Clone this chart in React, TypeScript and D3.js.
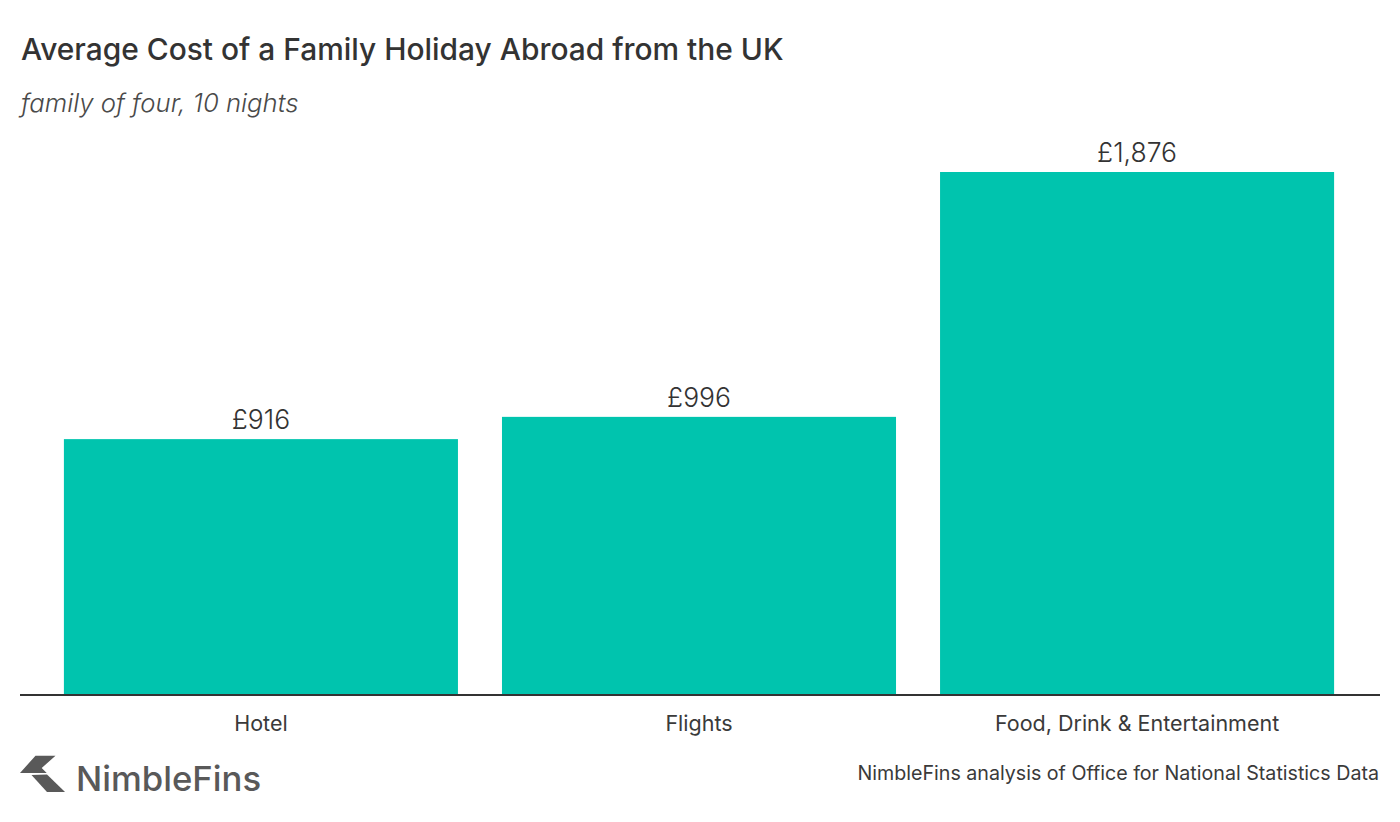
import * as React from 'react';
import { useEffect, useRef } from 'react';
import { select, scaleBand, scaleLinear, axisBottom } from 'd3';

const categories = ['Hotel', 'Flights', 'Food, Drink & Entertainment'];
const costs = [916, 996, 1876];

const width = 1400;
const height = 822;
const baseline = 694;
const font = 'Inter, sans-serif';

const x = scaleBand<string>().domain(categories).range([42, 1356]).paddingInner(0.1005).paddingOuter(0.05);
const y = scaleLinear().domain([0, 1876]).range([baseline, 172]);

const App = () => {
    const axisRef = useRef<SVGGElement>(null);

    useEffect(() => {
        const g = select(axisRef.current);
        g.call(axisBottom(x).tickSize(0).tickPadding(20.5) as any);
        g.select('.domain').attr('d', `M${20 - 42},0H${1380 - 42}`).attr('transform', 'translate(42,0)').attr('stroke', '#333333').attr('stroke-width', 2);
        g.selectAll('text').attr('font-family', font).attr('font-size', 21.5).attr('fill', '#3a3a3a');
    }, []);

    return (
        <svg width={width} height={height} style={{ position: 'absolute', left: 0, top: 0, background: '#fff' }}>
            <text x={21} y={60} fontFamily={font} fontSize={29.9} fontWeight={500} fill="#333333">
                Average Cost of a Family Holiday Abroad from the UK
            </text>
            <text x={21} y={112} fontFamily={font} fontSize={25.7} fontWeight={300} fontStyle="italic" fill="#4a4a4a">
                family of four, 10 nights
            </text>
            {categories.map((c, i) => (
                <g key={c}>
                    <rect x={x(c)} y={y(costs[i])} width={x.bandwidth()} height={baseline - y(costs[i])} fill="#00c4ae" />
                    <text x={x(c)! + x.bandwidth() / 2} y={y(costs[i]) - 10} textAnchor="middle" fontFamily={font} fontSize={26.5} fontWeight={300} fill="#333333">
                        £{costs[i].toLocaleString('en-GB')}
                    </text>
                </g>
            ))}
            <g ref={axisRef} transform={`translate(0,${baseline + 1})`} />
            <path d="M20 773 L35.5 755.7 L55.5 755.7 L41.7 768 L46.7 773 Z" fill="#595959" />
            <path d="M31.5 775 L47 774.5 L65 792 L47 792 Z" fill="#595959" />
            <text x={76} y={791} fontFamily={font} fontSize={34.7} fontWeight={500} fill="#595959">NimbleFins</text>
            <text x={1379} y={780} textAnchor="end" fontFamily={font} fontSize={19.65} fill="#3a3a3a">
                NimbleFins analysis of Office for National Statistics Data
            </text>
        </svg>
    );
};

export default App;
